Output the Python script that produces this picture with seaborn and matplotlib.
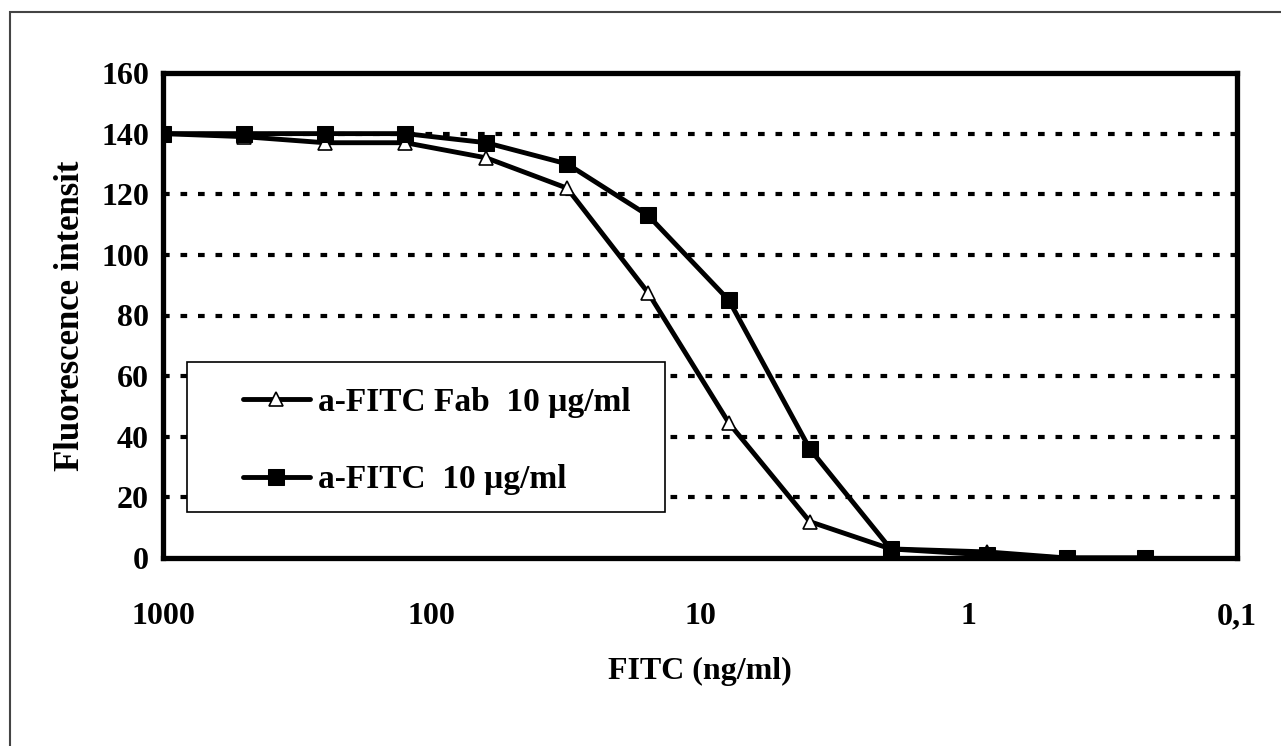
import matplotlib
matplotlib.use("Agg")
import matplotlib.pyplot as plt
import matplotlib.ticker as mticker
from matplotlib.patches import Rectangle
import pandas as pd
import seaborn as sns

# Values
conc = [1000, 500, 250, 125, 62.5, 31.25, 15.6, 7.8, 3.9, 1.95, 0.85, 0.43, 0.22]
fab_intensity = [140, 139, 137, 137, 132, 122, 87.5, 44.5, 12, 3, 2, 0, 0]
igg_intensity = [140, 140, 140, 140, 137, 130, 113, 85, 36, 3, 1, 0, 0]

fab_label = "a-FITC Fab  10 µg/ml"
igg_label = "a-FITC  10 µg/ml"
x_ticks = [1000, 100, 10, 1, 0.1]
x_tick_labels = ["1000", "100", "10", "1", "0,1"]
y_ticks = [0, 20, 40, 60, 80, 100, 120, 140, 160]

sns.set_style("white")
plt.rcParams["font.family"] = ["Liberation Serif", "DejaVu Serif"]
plt.rcParams["font.weight"] = "bold"
plt.rcParams["text.color"] = "black"
plt.rcParams["axes.labelcolor"] = "black"

df_fab = pd.DataFrame({"conc": conc, "intensity": fab_intensity})
df_igg = pd.DataFrame({"conc": conc, "intensity": igg_intensity})

W, H = 1281, 746
fig = plt.figure(figsize=(W / 100, H / 100), dpi=100)
ax = fig.add_axes([163 / W, 1 - 558 / H, (1237 - 163) / W, (558 - 73) / H])

# outer frame around the chart
fig.patches.append(Rectangle((10 / W, -0.05), 1.1, 1 - 12 / H + 0.05,
                             transform=fig.transFigure, fill=False,
                             edgecolor="#444444", linewidth=1.5, zorder=0))

sns.lineplot(data=df_fab, x="conc", y="intensity", ax=ax, color="black",
             linewidth=3.5, marker="^", markersize=10, markerfacecolor="white",
             markeredgecolor="black", markeredgewidth=1.2, label=fab_label,
             zorder=3, sort=False)
sns.lineplot(data=df_igg, x="conc", y="intensity", ax=ax, color="black",
             linewidth=3.5, marker="s", markersize=11, markerfacecolor="black",
             markeredgecolor="black", label=igg_label, zorder=4, sort=False)

ax.set_xscale("log")
ax.set_xlim(1000, 0.1)
ax.set_ylim(0, 160)
ax.xaxis.set_major_locator(mticker.FixedLocator(x_ticks))
ax.xaxis.set_major_formatter(mticker.FixedFormatter(x_tick_labels))
ax.xaxis.set_minor_locator(mticker.NullLocator())
ax.set_yticks(y_ticks)

for y in y_ticks[1:-1]:
    ax.axhline(y, color="black", linewidth=3, linestyle=(0, (1.6, 2.6)), zorder=1)

for side in ["left", "right", "top", "bottom"]:
    ax.spines[side].set_visible(True)
    ax.spines[side].set_linewidth(3.8)
    ax.spines[side].set_color("black")

ax.tick_params(axis="both", direction="inout", length=12, width=2.5,
               labelsize=23, colors="black")
ax.tick_params(axis="x", pad=26)
ax.tick_params(axis="y", pad=4)

ax.set_xlabel("FITC (ng/ml)", fontsize=23, fontweight="bold", labelpad=18)
ax.set_ylabel("Fluorescence intensit", fontsize=25, fontweight="bold", labelpad=10)

# legend box drawn as a patch, legend entries placed inside it
box = Rectangle((187 / W, 1 - 512 / H), (665 - 187) / W, (512 - 362) / H,
                transform=fig.transFigure, facecolor="white", edgecolor="black",
                linewidth=1.2, zorder=5)
ax.add_patch(box)
box.set_clip_on(False)

leg = ax.legend(loc="center left", bbox_to_anchor=(243 / W, 1 - 441 / H),
                bbox_transform=fig.transFigure, frameon=False,
                prop={"size": 24, "weight": "bold"}, handlelength=2.0,
                handletextpad=0.25, borderpad=0, labelspacing=1.4,
                borderaxespad=0)
leg.set_zorder(6)

fig.savefig("out.png", dpi=100, facecolor="white")
